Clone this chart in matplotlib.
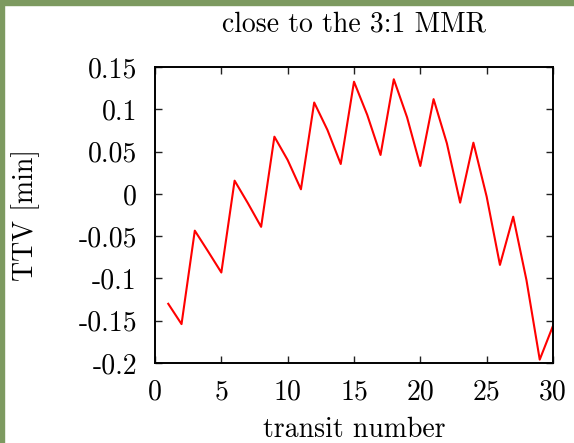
import matplotlib
matplotlib.use("Agg")
import matplotlib.pyplot as plt
from matplotlib.patches import Rectangle

# TTV close to the 3:1 MMR
transit = list(range(1, 31))
ttv = [-0.130, -0.154, -0.0435, -0.068, -0.093, 0.0156, -0.011, -0.039,
       0.0676, 0.040, 0.0054, 0.108, 0.0755, 0.0353, 0.1326, 0.0933,
       0.046, 0.1355, 0.0905, 0.033, 0.112, 0.0598, -0.0104, 0.0605,
       -0.0033, -0.084, -0.027, -0.102, -0.196, -0.156]

xticks = [0, 5, 10, 15, 20, 25, 30]
yticks = [-0.2, -0.15, -0.1, -0.05, 0, 0.05, 0.1, 0.15]
ytick_labels = ["-0.2", "-0.15", "-0.1", "-0.05", "0", "0.05", "0.1", "0.15"]

plt.rcParams['font.family'] = 'serif'
plt.rcParams['font.serif'] = ['cmr10']
plt.rcParams['axes.unicode_minus'] = False
plt.rcParams['mathtext.fontset'] = 'cm'

fig = plt.figure(figsize=(5.74, 4.43), dpi=100)
ax = fig.add_axes([155 / 574, 1 - 363 / 443, 398 / 574, 296 / 443])

ax.plot(transit, ttv, color='#ff0000', linewidth=1.5)
ax.set_xlim(0, 30)
ax.set_ylim(-0.2, 0.15)
ax.set_xticks(xticks)
ax.set_xticklabels([str(t) for t in xticks])
ax.set_yticks(yticks)
ax.set_yticklabels(ytick_labels)
ax.tick_params(direction='in', length=5, width=1, top=True, right=True,
               labelsize=20, color='#222222')
ax.tick_params(axis='x', pad=12)
ax.tick_params(axis='y', pad=13)
for s in ax.spines.values():
    s.set_linewidth(1.4)

fs = 20
ax.set_title("close to the 3:1 MMR", fontsize=fs, y=(363 - 32) / 296, pad=0,
             va='baseline')
ax.set_xlabel("transit number", fontsize=fs, va='baseline')
ax.xaxis.set_label_coords(0.5, (363 - 437) / 296)
ax.set_ylabel("TTV [min]", fontsize=fs, va='center')
ax.yaxis.set_label_coords((25.5 - 155) / 398, 0.5)

# green frame on the top and left edges
green = '#7d9a60'
fig.patches.append(Rectangle((0, 1 - 5 / 443), 1, 5 / 443, transform=fig.transFigure,
                             color=green, zorder=0))
fig.patches.append(Rectangle((0, 0), 4 / 574, 1, transform=fig.transFigure,
                             color=green, zorder=0))

fig.savefig("out.png", dpi=100)
